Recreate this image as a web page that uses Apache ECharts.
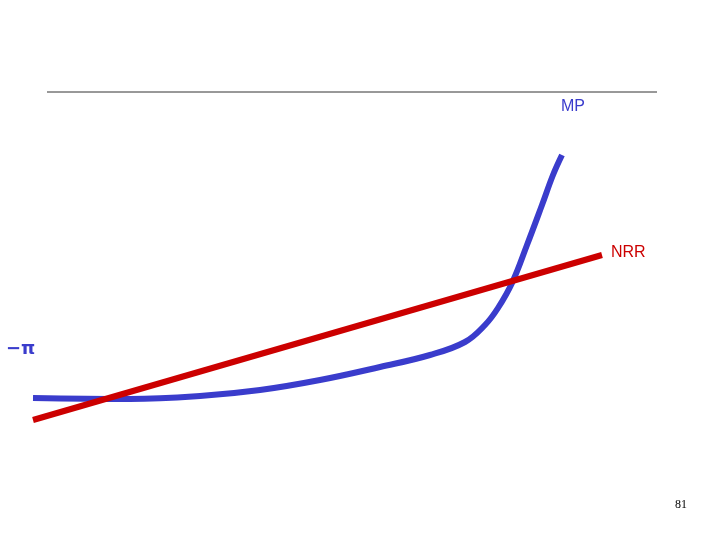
<!DOCTYPE html>
<html>
<head>
<meta charset="utf-8">
<style>html,body{margin:0;width:100%;height:100%;background:#fff}#c{width:720px;height:540px}</style>
<script src="https://cdn.jsdelivr.net/npm/echarts@6/dist/echarts.min.js"></script>
</head>
<body>
<div id="c"></div>
<script>
// coordinates in a 720x540 plotting space (y grows downward)
var mpX = [33, 130, 200, 260, 320, 380, 430, 465, 485, 498, 512, 527, 542, 553, 562];
var mpY = [398, 399, 396, 390, 380, 367, 355, 342, 325, 308, 283, 245, 205, 175, 155];
var nrrX = [33, 602];
var nrrY = [420, 255];
var topX = [47, 657];
var topY = [92, 92];

function pts(xs, ys) { return xs.map(function (x, i) { return [x, ys[i]]; }); }

var chart = echarts.init(document.getElementById('c'));
chart.setOption({
    animation: false,
    grid: { left: 0, right: 0, top: 0, bottom: 0 },
    xAxis: { type: 'value', min: 0, max: 720, show: false },
    yAxis: { type: 'value', min: 0, max: 540, inverse: true, show: false },
    series: [
        { type: 'line', data: pts(topX, topY), symbol: 'none', lineStyle: { color: '#333', width: 1 } },
        { type: 'line', data: pts(mpX, mpY), smooth: 0.4, symbol: 'none', lineStyle: { color: '#3a3ccc', width: 6 } },
        { type: 'line', data: pts(nrrX, nrrY), symbol: 'none', lineStyle: { color: '#cc0000', width: 6 } }
    ],
    graphic: [
        { type: 'text', left: 561, top: 99, style: { text: 'MP', fill: '#3a3ccc', font: '16px Arial, "Liberation Sans"' } },
        { type: 'text', left: 611, top: 245, style: { text: 'NRR', fill: '#cc0000', font: '16px Arial, "Liberation Sans"' } },
        { type: 'text', left: 6, top: 340, style: { text: '−π', fill: '#3a3ccc', font: 'bold 18px "DejaVu Sans"' } },
        { type: 'text', left: 675, top: 499, style: { text: '81', fill: '#000', font: '12px "Liberation Serif"' } }
    ]
});
</script>
</body>
</html>
